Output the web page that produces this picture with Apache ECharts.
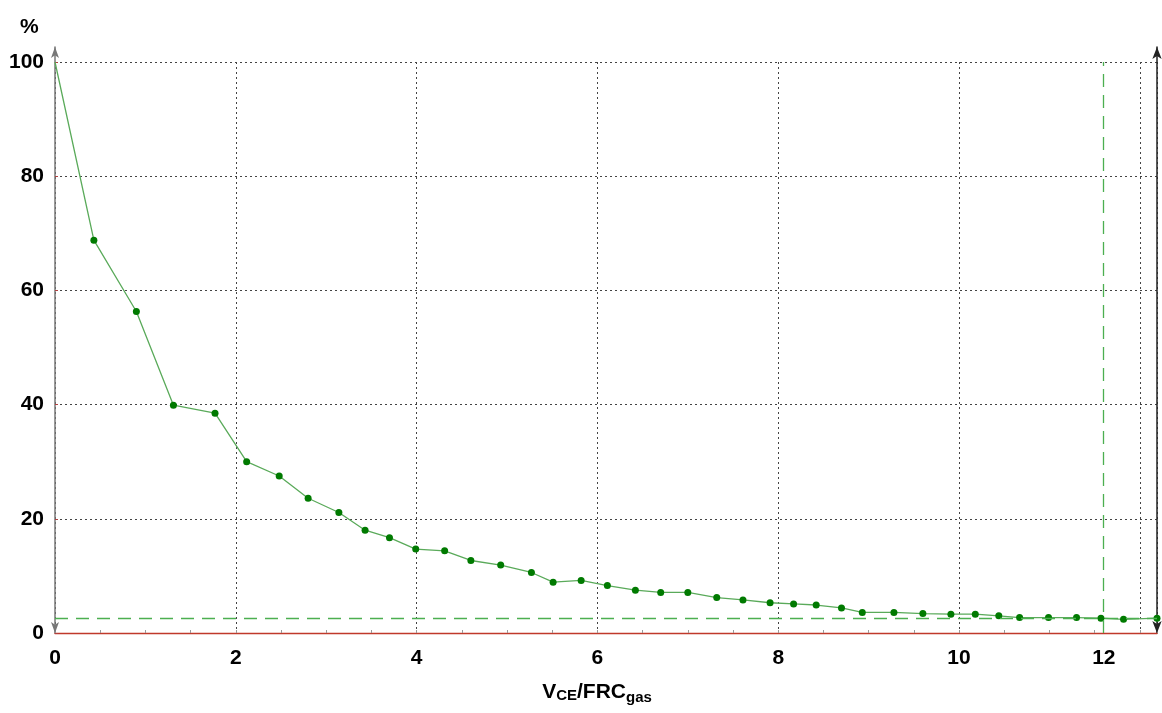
<!DOCTYPE html>
<html>
<head>
<meta charset="utf-8">
<title>Washout curve</title>
<script src="https://cdn.jsdelivr.net/npm/echarts@6/dist/echarts.min.js"></script>
<style>
  html, body { margin: 0; padding: 0; background: #fff; }
  #chart { width: 1162px; height: 713px; }
</style>
</head>
<body>
<div id="chart"></div>
<script>
// values
const xVals = [0, 0.43, 0.90, 1.31, 1.77, 2.12, 2.48, 2.80, 3.14, 3.43,
  3.70, 3.99, 4.31, 4.60, 4.93, 5.27, 5.51, 5.82, 6.11, 6.42,
  6.70, 7.00, 7.32, 7.61, 7.91, 8.17, 8.42, 8.70, 8.93, 9.28,
  9.60, 9.91, 10.18, 10.44, 10.67, 10.99, 11.30, 11.57, 11.82, 12.19];
const yVals = [100, 68.8, 56.3, 39.9, 38.5, 30.0, 27.5, 23.6, 21.1, 18.0,
  16.7, 14.7, 14.4, 12.7, 11.9, 10.6, 8.9, 9.2, 8.3, 7.5,
  7.1, 7.1, 6.2, 5.8, 5.3, 5.1, 4.9, 4.4, 3.6, 3.6,
  3.4, 3.3, 3.3, 3.0, 2.7, 2.7, 2.7, 2.6, 2.4, 2.6];
const xTicks = [0, 2, 4, 6, 8, 10, 12];
const yTicks = [0, 20, 40, 60, 80, 100];
const xRange = [0, 12.19];
const refX = [11.6];   // vertical dashed line
const refY = [2.6];    // horizontal dashed line

const numFont = '"Liberation Sans Narrow", "Liberation Sans", Arial, sans-serif';
const txtFont = '"Liberation Sans", Arial, sans-serif';

const chart = echarts.init(document.getElementById('chart'));

const pts = xVals.map((x, i) => i === 0 ? { value: [x, yVals[i]], symbol: 'none' } : [x, yVals[i]]);

const option = {
  animation: false,
  title: {
    text: '%', left: 15, top: 12,
    textStyle: { fontFamily: numFont, fontSize: 21, fontWeight: 'bold', color: '#000' }
  },
  grid: [
    { left: 55, right: 5, top: 62, bottom: 80 },
    { left: 55, right: 5, top: 47, bottom: 80 }
  ],
  xAxis: [{
    gridIndex: 0,
    type: 'value',
    min: xRange[0], max: xRange[1], interval: 2,
    axisLine: { show: true, lineStyle: { color: '#c0392b', width: 1.3 } },
    axisTick: { show: true, inside: true, length: 3, lineStyle: { color: '#999' } },
    minorTick: { show: true, splitNumber: 4, length: 3, lineStyle: { color: '#999' } },
    splitLine: { show: true, lineStyle: { color: '#444', type: [2, 3], width: 1 } },
    axisLabel: {
      margin: 15,
      fontFamily: numFont, fontSize: 21, fontWeight: 'bold', color: '#000',
      formatter: v => {
        if (!xTicks.includes(v)) return '';
        return v === 12 ? '{s|12}' : String(v);
      },
      rich: { s: { fontFamily: numFont, fontSize: 21, fontWeight: 'bold', color: '#000', padding: [0, 72, 0, 0] } }
    },
    name: '{b|V}{s|CE}{b|/FRC}{g|gas}',
    nameLocation: 'middle',
    nameGap: 49,
    nameTextStyle: {
      padding: [0, 18, 0, 0],
      rich: {
        b: { fontFamily: txtFont, fontSize: 21, fontWeight: 'bold', color: '#000', verticalAlign: 'bottom' },
        s: { fontFamily: txtFont, fontSize: 15, fontWeight: 'bold', color: '#000', verticalAlign: 'bottom' },
        g: { fontFamily: txtFont, fontSize: 15, fontWeight: 'bold', color: '#000', verticalAlign: 'bottom', padding: [0, 0, -2, 0] }
      }
    }
  }, {
    gridIndex: 1, type: 'value', min: 0, max: 1, show: false
  }],
  yAxis: [{
    gridIndex: 0,
    type: 'value',
    min: 0, max: 100, interval: 20,
    axisLine: { show: false },
    axisTick: { show: true, inside: true, length: 3, lineStyle: { color: '#b04040' } },
    splitLine: { show: true, lineStyle: { color: '#444', type: [2, 3], width: 1 } },
    axisLabel: {
      margin: 11,
      fontFamily: numFont, fontSize: 21, fontWeight: 'bold', color: '#000',
      formatter: v => yTicks.includes(v) ? String(v) : ''
    }
  }, {
    gridIndex: 1, type: 'value', min: 0, max: 1, position: 'left',
    axisLine: { show: true, symbol: ['arrow', 'arrow'], symbolSize: [6, 11], lineStyle: { color: '#777', width: 1.5 } },
    axisTick: { show: false }, axisLabel: { show: false }, splitLine: { show: false }
  }, {
    gridIndex: 1, type: 'value', min: 0, max: 1, position: 'right',
    axisLine: { show: true, symbol: ['arrow', 'arrow'], symbolSize: [7, 12], lineStyle: { color: '#222', width: 1.5 } },
    axisTick: { show: false }, axisLabel: { show: false }, splitLine: { show: false }
  }],
  series: [{
    type: 'line',
    xAxisIndex: 0, yAxisIndex: 0,
    data: pts,
    symbol: 'circle',
    symbolSize: 7,
    showAllSymbol: true,
    lineStyle: { color: '#5aaa5a', width: 1.3 },
    itemStyle: { color: '#007a00' },
    markLine: {
      silent: true,
      symbol: 'none',
      label: { show: false },
      lineStyle: { color: '#4caf50', type: [13, 8], width: 1.3 },
      data: [{ xAxis: refX[0] }, { yAxis: refY[0] }]
    }
  }]
};

chart.setOption(option);
</script>
</body>
</html>
